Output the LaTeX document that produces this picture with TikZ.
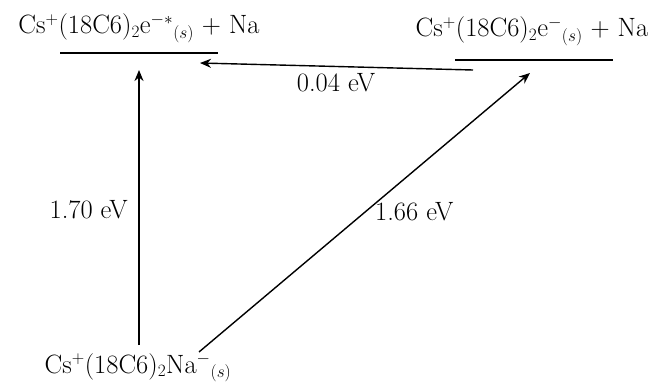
\documentclass[tikz,border=0pt]{standalone}
\usetikzlibrary{arrows.meta}
\begin{document}
\begin{tikzpicture}[x=1pt,y=-1pt,
  lbl/.style={inner sep=0pt,font=\fontsize{26.5}{30}\selectfont},
  level/.style={line width=1.5pt},
  trans/.style={line width=1.4pt,-{Stealth[length=11pt,width=9pt,inset=3.5pt]}}]
\useasboundingbox (0,0) rectangle (661,385);
% labels
\node[lbl,anchor=base] (tl) at (139,34) {Cs$^+$(18C6)$_2$e$^{-*}{}_{(s)}$ + Na};
\node[lbl,anchor=base] (tr) at (532,37) {Cs$^+$(18C6)$_2$e$^{-}{}_{(s)}$ + Na};
\node[lbl,anchor=base] (bot) at (138,373) {Cs$^+$(18C6)$_2$Na$^{-}{}_{(s)}$};
% levels
\coordinate (tlA) at (60,53);
\coordinate (tlB) at (218,53);
\coordinate (trA) at (455,60);
\coordinate (trB) at (613,60);
\draw[level] (tlA) -- (tlB);
\draw[level] (trA) -- (trB);
% arrow ends
\coordinate (h1) at (473,70);
\coordinate (h2) at (200,63);
\coordinate (v1) at (139,345);
\coordinate (v2) at (139,70);
\coordinate (d1) at (199,352);
\coordinate (d2) at (530,73);
\draw[trans] (h1) -- (h2);
\draw[trans] (v1) -- (v2);
\draw[trans] (d1) -- (d2);
% energies
\node[lbl,anchor=base] (e1) at (336,92) {0.04 eV};
\node[lbl,anchor=base east] (e2) at (128,218) {1.70 eV};
\node[lbl,anchor=base west] (e3) at (375,220) {1.66 eV};
\end{tikzpicture}
\end{document}
